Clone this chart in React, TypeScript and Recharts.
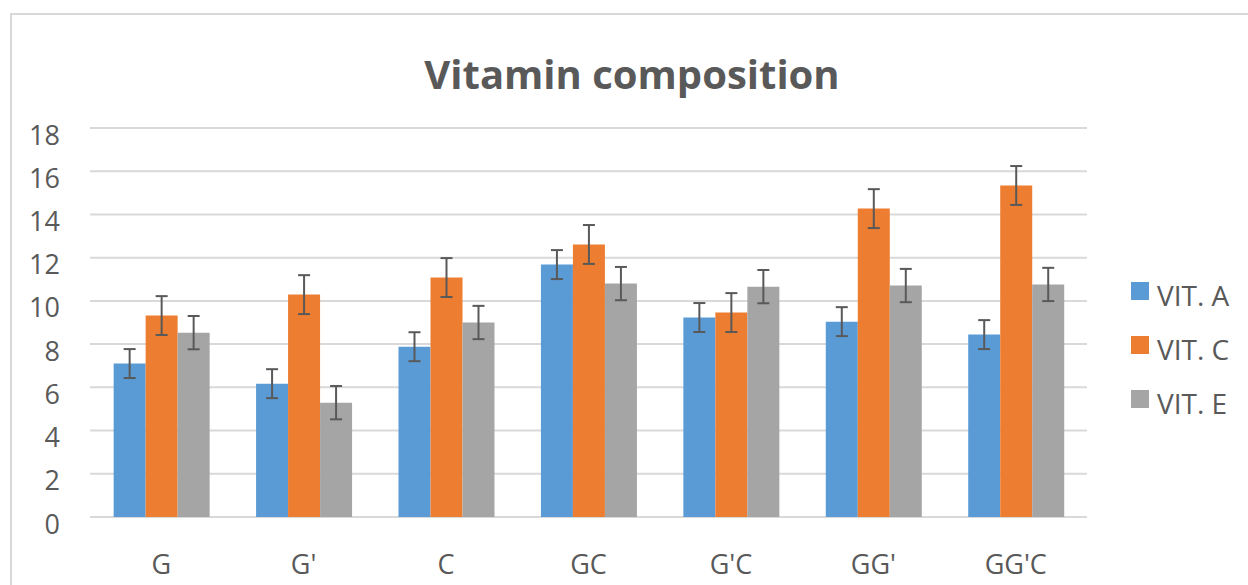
import React from "react";
import { BarChart, Bar, XAxis, YAxis, CartesianGrid, Legend, ErrorBar } from "recharts";

const categories = ["G", "G'", "C", "GC", "G'C", "GG'", "GG'C"];
const vitA = [7.1, 6.17, 7.88, 11.68, 9.23, 9.04, 8.44];
const vitC = [9.32, 10.29, 11.08, 12.61, 9.46, 14.27, 15.34];
const vitE = [8.53, 5.29, 9.0, 10.8, 10.66, 10.71, 10.76];
const errA = [0.67, 0.67, 0.67, 0.67, 0.67, 0.67, 0.67];
const errC = [0.9, 0.9, 0.9, 0.9, 0.9, 0.9, 0.9];
const errE = [0.77, 0.77, 0.77, 0.77, 0.77, 0.77, 0.77];
const yTicks = [0, 2, 4, 6, 8, 10, 12, 14, 16, 18];
const seriesNames = ["VIT. A", "VIT. C", "VIT. E"];
const seriesColors = ["#5B9BD5", "#ED7D31", "#A5A5A5"];

const data = categories.map((c, i) => ({
  name: c,
  a: vitA[i],
  c: vitC[i],
  e: vitE[i],
  ea: errA[i],
  ec: errC[i],
  ee: errE[i],
}));

const FONT = "'Open Sans', sans-serif";
const TEXT = "#595959";

const YTick = (props: any) => {
  const { x, y, payload } = props;
  return (
    <text x={x - 30} y={y + 7} dy="0.355em" textAnchor="end" fill={TEXT} fontSize={27} fontFamily={FONT}>
      {payload.value}
    </text>
  );
};

const XTick = (props: any) => {
  const { x, y, payload } = props;
  return (
    <text x={x} y={y + 57} textAnchor="middle" fill={TEXT} fontSize={27} fontFamily={FONT}>
      {payload.value}
    </text>
  );
};

const LegendContent = (props: any) => {
  const payload = props.payload || [];
  return (
    <div style={{ fontFamily: FONT }}>
      {payload.map((p: any) => (
        <div key={p.value} style={{ display: "flex", alignItems: "flex-start", height: 54 }}>
          <div style={{ width: 18, height: 18, background: p.color, marginTop: 14, marginRight: 8 }} />
          <span style={{ fontSize: 28, lineHeight: "54px", color: TEXT, whiteSpace: "nowrap" }}>{p.value}</span>
        </div>
      ))}
    </div>
  );
};

export default function App() {
  return (
    <div style={{ position: "absolute", left: 0, top: 0, width: 1248, height: 585, background: "#fff", overflow: "hidden" }}>
      <div
        style={{
          position: "absolute",
          left: 10,
          top: 13,
          width: 1300,
          height: 700,
          borderLeft: "2px solid #D9D9D9",
          borderTop: "2px solid #D9D9D9",
        }}
      />
      <div
        style={{
          position: "absolute",
          left: 0,
          width: 1264,
          top: 47,
          textAlign: "center",
          fontFamily: FONT,
          fontWeight: 700,
          fontSize: 40,
          lineHeight: "54px",
          color: TEXT,
        }}
      >
        Vitamin composition
      </div>
      <div style={{ position: "absolute", left: 0, top: 0 }}>
        <BarChart
          width={1248}
          height={585}
          data={data}
          margin={{ top: 128, right: 161, bottom: 28, left: 30 }}
          barCategoryGap="16.6%"
          barGap={0}
        >
          <CartesianGrid vertical={false} stroke="#D9D9D9" strokeWidth={2} />
          <XAxis dataKey="name" axisLine={false} tickLine={false} tickSize={0} tickMargin={0} height={40} tick={<XTick />} interval={0} />
          <YAxis
            domain={[0, 18]}
            ticks={yTicks}
            axisLine={false}
            tickLine={false}
            tickSize={0}
            tickMargin={0}
            width={60}
            tick={<YTick />}
            interval={0}
          />
          <Legend
            layout="vertical"
            align="center"
            verticalAlign="middle"
            content={<LegendContent />}
            wrapperStyle={{ left: 1131, top: 268, width: 117, height: 170 }}
          />
          <Bar dataKey="a" name={seriesNames[0]} fill={seriesColors[0]} isAnimationActive={false}>
            <ErrorBar dataKey="ea" width={6} stroke="#595959" strokeWidth={2} isAnimationActive={false} />
          </Bar>
          <Bar dataKey="c" name={seriesNames[1]} fill={seriesColors[1]} isAnimationActive={false}>
            <ErrorBar dataKey="ec" width={6} stroke="#595959" strokeWidth={2} isAnimationActive={false} />
          </Bar>
          <Bar dataKey="e" name={seriesNames[2]} fill={seriesColors[2]} isAnimationActive={false}>
            <ErrorBar dataKey="ee" width={6} stroke="#595959" strokeWidth={2} isAnimationActive={false} />
          </Bar>
        </BarChart>
      </div>
    </div>
  );
}
